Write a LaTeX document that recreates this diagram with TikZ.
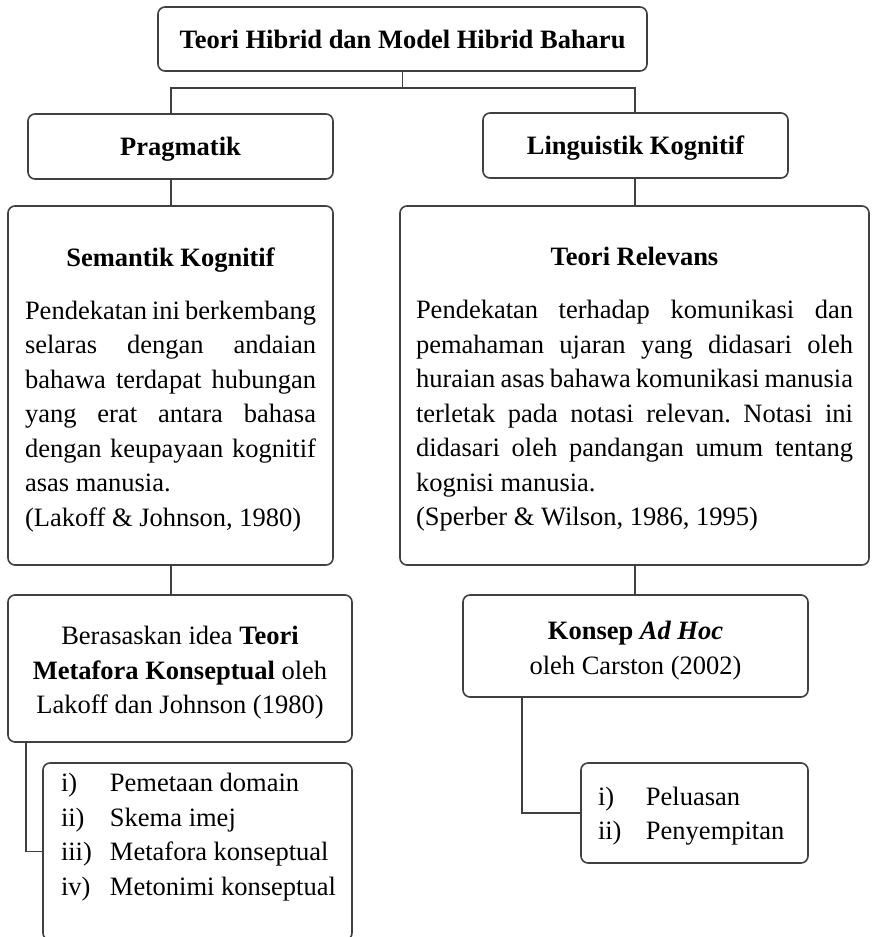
\documentclass[tikz,border=0pt]{standalone}
\usepackage{fontspec}
\setmainfont{Liberation Serif}
\newcommand\diagfont{\fontsize{26.5pt}{34.5pt}\selectfont\frenchspacing}
\newcommand\dn[2]{\raisebox{-#1}[\height][\depth]{#2}}
\definecolor{boxc}{gray}{0.25}
\begin{document}
\begin{tikzpicture}[x=1pt,y=-1pt,
  every node/.style={font=\diagfont},
  box/.style={draw=boxc, line width=1.6pt, rounded corners=7pt, inner sep=0pt, outer sep=0pt, anchor=north west, align=center},
  link/.style={draw=boxc, line width=1.5pt}]
\useasboundingbox (0,0) rectangle (871,937);
% boxes
\node[box, minimum width=489pt, minimum height=64pt] (top) at (158,7) {\bfseries Teori Hibrid dan Model Hibrid Baharu};
\node[box, minimum width=305pt, minimum height=65pt] (prag) at (28,114) {\dn{3pt}{\bfseries Pragmatik}};
\node[box, minimum width=305pt, minimum height=65pt] (ling) at (483,113) {\dn{3pt}{\bfseries Linguistik Kognitif}};
\node[box, minimum width=325pt, minimum height=359pt] (sem) at (8,206) {\dn{4pt}{\parbox{291pt}{%
  {\centering\bfseries Semantik Kognitif\par}\vspace{18.5pt}%
  Pendekatan ini berkembang\linebreak
  selaras dengan andaian\linebreak
  bahawa terdapat hubungan\linebreak
  yang erat antara bahasa\linebreak
  dengan keupayaan kognitif\linebreak
  asas manusia.\par
  (Lakoff \& Johnson, 1980)}}};
\node[box, minimum width=469pt, minimum height=359pt] (rel) at (400,206) {\dn{4pt}{\parbox{437pt}{%
  {\centering\bfseries Teori Relevans\par}\vspace{18.5pt}%
  Pendekatan terhadap komunikasi dan\linebreak
  pemahaman ujaran yang didasari oleh\linebreak
  huraian asas bahawa komunikasi manusia\linebreak
  terletak pada notasi relevan. Notasi ini\linebreak
  didasari oleh pandangan umum tentang\linebreak
  kognisi manusia.\par
  (Sperber \& Wilson, 1986, 1995)}}};
\node[box, minimum width=344pt, minimum height=147pt] (ber) at (8,595) {\dn{4pt}{\begin{tabular}{@{}c@{}}Berasaskan idea \textbf{Teori}\\ \textbf{Metafora Konseptual} oleh\\ Lakoff dan Johnson (1980)\end{tabular}}};
\node[box, minimum width=345pt, minimum height=102pt] (kon) at (463,595) {\dn{4pt}{\begin{tabular}{@{}c@{}}\textbf{Konsep \textit{Ad Hoc}}\\ oleh Carston (2002)\end{tabular}}};
\node[box, minimum width=309pt, minimum height=177pt] (lista) at (43,763) {\parbox{273pt}{%
  \makebox[49pt][l]{i)}\mbox{Pemetaan domain}\\
  \makebox[49pt][l]{ii)}\mbox{Skema imej}\\
  \makebox[49pt][l]{iii)}\mbox{Metafora konseptual}\\
  \makebox[49pt][l]{iv)}\mbox{Metonimi konseptual}\\
  \mbox{}}};
\node[box, minimum width=227pt, minimum height=100pt] (listb) at (581,763) {\dn{3pt}{\parbox{193pt}{%
  \makebox[48pt][l]{i)}\mbox{Peluasan}\\
  \makebox[48pt][l]{ii)}\mbox{Penyempitan}}}};
% junction coordinates
\coordinate (jT) at (402.5,88);
\coordinate (jL) at (171,88);
\coordinate (jR) at (635,88);
\coordinate (jB) at (26,0);
\coordinate (jK) at (522,0);
% connectors
\draw[link] (top.south) -- (jT);
\draw[link] (prag.north -| jL) -- (jL) -- (jR) -- (ling.north -| jR);
\draw[link] (prag.south -| jL) -- (sem.north -| jL);
\draw[link] (ling.south -| jR) -- (rel.north -| jR);
\draw[link] (sem.south -| jL) -- (ber.north -| jL);
\draw[link] (rel.south -| jR) -- (kon.north -| jR);
\draw[link] (ber.south -| jB) |- (lista.west);
\draw[link] (kon.south -| jK) |- (listb.west);
\end{tikzpicture}
\end{document}
